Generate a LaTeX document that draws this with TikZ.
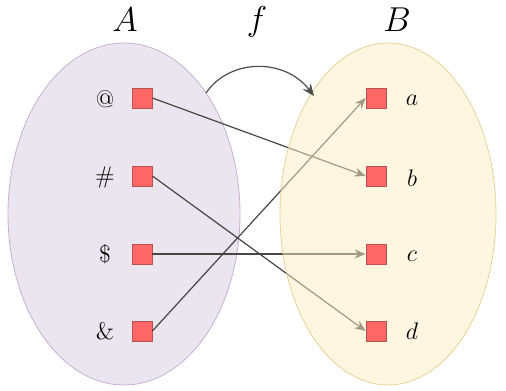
\documentclass[tikz,border=0pt]{standalone}
\usetikzlibrary{arrows.meta}
\definecolor{sqfill}{RGB}{255,102,102}
\definecolor{sqdraw}{RGB}{184,84,80}
\definecolor{afill}{RGB}{235,229,239}
\definecolor{adraw}{RGB}{196,178,212}
\definecolor{bfill}{RGB}{255,237,195}
\definecolor{bdraw}{RGB}{226,200,130}
\definecolor{arr}{RGB}{70,70,70}
\tikzset{
  sq/.style={draw=sqdraw,fill=sqfill,minimum size=10pt,inner sep=0pt,line width=0.4pt},
  mapline/.style={draw=arr,line width=0.6pt,-{Stealth[length=5.5pt,width=4.5pt]}},
  lbl/.style={inner sep=0pt,font=\large},
  title/.style={inner sep=0pt,font=\LARGE}
}
\begin{document}
\begin{tikzpicture}[x=0.5pt,y=-0.5pt]
\useasboundingbox (0,0) rectangle (506,390);
\fill[afill,draw=adraw,line width=0.4pt] (124,214) ellipse [x radius=116,y radius=171];
\node[title] (tA) at (125,20) {$A$};
\node[title] (tf) at (257,22) {$f$};
\node[title] (tB) at (397,20) {$B$};
\foreach \n/\y in {1/98,2/176,3/254,4/331}{
  \node[sq] (l\n) at (142,\y) {};
  \node[sq] (r\n) at (376,\y) {};
}
\node[lbl] (la) at (105,99) {@};
\node[lbl] (lb) at (105,177) {\#};
\node[lbl] (lc) at (105,254) {\$};
\node[lbl] (ld) at (105,331) {\&};
\draw[mapline] (l1.east) -- (r2.west);
\draw[mapline] (l2.east) -- (r4.west);
\draw[mapline] (l3.east) -- (r3.west);
\draw[mapline] (l4.east) -- (r1.west);
\fill[bfill,fill opacity=0.5,draw=bdraw,draw opacity=0.8,line width=0.4pt] (388,214) ellipse [x radius=108,y radius=171];
\foreach \n/\y in {1/98,2/176,3/254,4/331}{
  \node[sq] at (376,\y) {};
}
\node[lbl] (ra) at (412,100) {$a$};
\node[lbl] (rb) at (412,178) {$b$};
\node[lbl] (rc) at (412,256) {$c$};
\node[lbl] (rd) at (412,331) {$d$};
\coordinate (fs) at (206,93);
\coordinate (fe) at (314,96);
\draw[draw=black!70,line width=0.6pt,-{Stealth[length=6pt,width=5pt]}] (fs) .. controls (230,58) and (285,58) .. (fe);
\end{tikzpicture}
\end{document}
